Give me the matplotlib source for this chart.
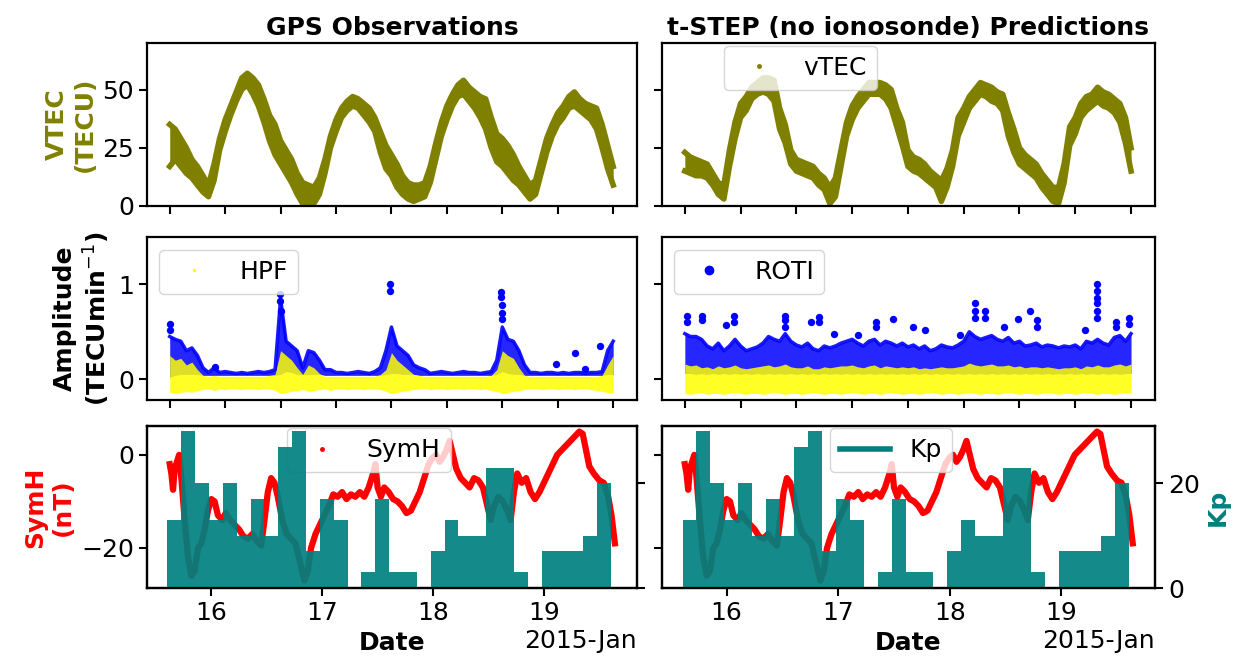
import numpy as np
import matplotlib
matplotlib.use("Agg")
import matplotlib.pyplot as plt
import matplotlib.dates as mdates
from matplotlib.lines import Line2D

plt.rcParams['font.size'] = 18

# time grid (day of Jan 2015) for the VTEC / amplitude panels, 15:00 on the 15th onwards
grid_days = np.arange(15.625, 19.626, 0.05)

# GPS observed VTEC band (TECU)
vtec_obs_lo = [17, 20, 17, 14, 12, 9, 6, 4, 11, 24, 32, 39, 45, 50, 52, 48, 43, 36, 28, 22,
               18, 14, 10, 5, 1, 0, 1, 5, 14, 25, 32, 38, 41, 43, 42, 39, 36, 32, 23, 16,
               13, 8, 5, 3, 2, 3, 4, 10, 20, 30, 37, 43, 47, 48, 45, 42, 38, 33, 25, 19,
               17, 14, 11, 9, 6, 3, 5, 14, 23, 30, 35, 38, 42, 43, 41, 39, 37, 33, 25, 16, 9]
vtec_obs_hi = [35, 33, 29, 25, 20, 17, 13, 9, 18, 29, 37, 43, 49, 55, 57, 55, 52, 46, 39, 35,
               28, 24, 20, 14, 10, 9, 8, 12, 20, 30, 37, 42, 45, 47, 46, 44, 42, 38, 32, 26,
               22, 18, 13, 10, 9, 9, 10, 17, 27, 36, 43, 48, 52, 54, 51, 49, 47, 46, 38, 31,
               29, 26, 22, 17, 13, 9, 11, 20, 29, 35, 40, 43, 47, 49, 46, 44, 43, 42, 35, 26, 17]

# t-STEP predicted VTEC band (TECU)
vtec_pred_lo = [15, 14, 13, 13, 12, 9, 5, 3, 17, 29, 38, 41, 46, 48, 49, 48, 45, 33, 27, 18,
                15, 14, 13, 12, 9, 7, 1, 4, 17, 30, 37, 42, 45, 48, 48, 48, 46, 42, 34, 26,
                17, 15, 14, 12, 10, 8, 2, 8, 17, 30, 36, 42, 45, 48, 47, 45, 44, 41, 30, 23,
                18, 16, 14, 12, 8, 5, 2, 1, 10, 26, 31, 38, 41, 43, 45, 43, 42, 40, 36, 27, 15]
vtec_pred_hi = [23, 21, 20, 19, 18, 14, 10, 9, 24, 36, 44, 47, 51, 53, 55, 55, 54, 42, 35, 24,
                20, 19, 18, 17, 14, 12, 8, 12, 24, 36, 43, 47, 50, 53, 53, 53, 52, 50, 42, 36,
                24, 21, 20, 18, 15, 13, 11, 16, 24, 38, 42, 47, 50, 53, 52, 51, 49, 48, 40, 33,
                25, 22, 20, 18, 14, 11, 8, 8, 18, 34, 38, 44, 47, 48, 51, 49, 48, 46, 44, 38, 25]

# observed ROTI (blue) and HPF (yellow) amplitude bands (TECU/min)
roti_obs_lo = [0.02, 0.04, 0.05, 0.05, 0.05, 0.05, 0.04, 0.04, 0.04, 0.04, 0.04, 0.04, 0.04, 0.04,
               0.04, 0.04, 0.04, 0.04, 0.04, 0.04, 0.05, 0.08, 0.07, 0.05, 0.05, 0.05, 0.05, 0.05,
               0.04, 0.04, 0.04, 0.04, 0.04, 0.04, 0.04, 0.04, 0.04, 0.04, 0.04, 0.05, 0.06, 0.06,
               0.05, 0.05, 0.05, 0.04, 0.04, 0.04, 0.04, 0.04, 0.04, 0.04, 0.04, 0.04, 0.04, 0.04,
               0.04, 0.04, 0.04, 0.05, 0.08, 0.06, 0.05, 0.05, 0.04, 0.04, 0.04, 0.04, 0.04, 0.04,
               0.04, 0.04, 0.04, 0.04, 0.04, 0.04, 0.04, 0.04, 0.04, 0.05, 0.05]
roti_obs_hi = [0.45, 0.42, 0.4, 0.3, 0.33, 0.25, 0.12, 0.07, 0.12, 0.07, 0.08, 0.07, 0.06, 0.07,
               0.06, 0.07, 0.08, 0.07, 0.08, 0.1, 0.85, 0.4, 0.35, 0.3, 0.12, 0.3, 0.28, 0.2,
               0.1, 0.1, 0.07, 0.07, 0.06, 0.07, 0.08, 0.07, 0.06, 0.08, 0.12, 0.3, 0.55, 0.35,
               0.3, 0.25, 0.15, 0.12, 0.1, 0.06, 0.07, 0.08, 0.07, 0.06, 0.07, 0.08, 0.07, 0.07,
               0.06, 0.07, 0.08, 0.2, 0.55, 0.42, 0.4, 0.3, 0.15, 0.07, 0.07, 0.06, 0.07, 0.07,
               0.06, 0.07, 0.06, 0.07, 0.07, 0.06, 0.07, 0.07, 0.08, 0.3, 0.4]
hpf_obs_lo = [-0.14, -0.15, -0.14, -0.13, -0.14, -0.12, -0.11, -0.1, -0.12, -0.1, -0.11, -0.1, -0.1, -0.11,
              -0.1, -0.1, -0.11, -0.1, -0.1, -0.12, -0.15, -0.14, -0.13, -0.12, -0.11, -0.13, -0.12, -0.11,
              -0.1, -0.12, -0.1, -0.1, -0.11, -0.1, -0.1, -0.11, -0.1, -0.1, -0.11, -0.13, -0.15, -0.14,
              -0.13, -0.12, -0.11, -0.1, -0.1, -0.11, -0.1, -0.1, -0.11, -0.1, -0.1, -0.11, -0.1, -0.1,
              -0.11, -0.1, -0.12, -0.13, -0.15, -0.14, -0.13, -0.12, -0.11, -0.1, -0.1, -0.11, -0.1, -0.1,
              -0.11, -0.1, -0.1, -0.11, -0.1, -0.1, -0.11, -0.12, -0.13, -0.14, -0.15]
hpf_obs_hi = [0.25, 0.2, 0.22, 0.15, 0.18, 0.1, 0.04, 0.03, 0.04, 0.03, 0.03, 0.03, 0.03, 0.03,
              0.03, 0.03, 0.03, 0.03, 0.04, 0.05, 0.3, 0.25, 0.2, 0.12, 0.05, 0.15, 0.12, 0.06,
              0.03, 0.03, 0.03, 0.03, 0.03, 0.03, 0.03, 0.03, 0.03, 0.03, 0.05, 0.1, 0.28, 0.2,
              0.15, 0.1, 0.05, 0.04, 0.03, 0.03, 0.03, 0.03, 0.03, 0.03, 0.03, 0.03, 0.03, 0.03,
              0.03, 0.03, 0.04, 0.1, 0.3, 0.25, 0.22, 0.12, 0.04, 0.03, 0.03, 0.03, 0.03, 0.03,
              0.03, 0.03, 0.03, 0.03, 0.03, 0.03, 0.03, 0.03, 0.04, 0.15, 0.25]
roti_obs_spike_days = [15.625, 15.63, 16.03, 16.62, 16.62, 16.625, 17.61, 17.61, 18.615, 18.615,
                       18.62, 18.62, 18.625, 19.11, 19.28, 19.37, 19.51]
roti_obs_spike_vals = [0.58, 0.52, 0.13, 0.9, 0.82, 0.72, 1.0, 0.93, 0.92, 0.87,
                       0.78, 0.7, 0.63, 0.16, 0.28, 0.11, 0.35]

# predicted ROTI and HPF bands
roti_pred_lo = [0.06, 0.06, 0.05, 0.06, 0.05, 0.06, 0.05, 0.06, 0.05, 0.06, 0.05, 0.06, 0.05, 0.06,
                0.05, 0.06, 0.05, 0.06, 0.05, 0.06, 0.05, 0.06, 0.05, 0.06, 0.05, 0.06, 0.05, 0.06,
                0.05, 0.06, 0.05, 0.06, 0.05, 0.06, 0.05, 0.06, 0.05, 0.06, 0.05, 0.06, 0.05, 0.06,
                0.05, 0.06, 0.05, 0.06, 0.05, 0.06, 0.05, 0.06, 0.05, 0.06, 0.05, 0.06, 0.05, 0.06,
                0.05, 0.06, 0.05, 0.06, 0.05, 0.06, 0.05, 0.06, 0.05, 0.06, 0.05, 0.06, 0.05, 0.06,
                0.05, 0.06, 0.05, 0.06, 0.05, 0.06, 0.05, 0.06, 0.05, 0.06, 0.06]
roti_pred_hi = [0.48, 0.45, 0.45, 0.42, 0.35, 0.32, 0.38, 0.3, 0.35, 0.42, 0.35, 0.3, 0.32, 0.34,
                0.38, 0.45, 0.42, 0.4, 0.48, 0.4, 0.36, 0.34, 0.38, 0.32, 0.3, 0.35, 0.33, 0.35,
                0.38, 0.4, 0.42, 0.38, 0.35, 0.4, 0.42, 0.36, 0.4, 0.38, 0.35, 0.38, 0.34, 0.36,
                0.32, 0.35, 0.3, 0.32, 0.36, 0.34, 0.33, 0.36, 0.4, 0.5, 0.45, 0.42, 0.44, 0.46,
                0.42, 0.4, 0.44, 0.38, 0.4, 0.35, 0.36, 0.38, 0.34, 0.36, 0.35, 0.33, 0.35, 0.34,
                0.36, 0.32, 0.4, 0.38, 0.42, 0.38, 0.36, 0.44, 0.46, 0.4, 0.48]
hpf_pred_lo = [-0.15, -0.16, -0.15, -0.14, -0.16, -0.15, -0.15, -0.16, -0.15, -0.14, -0.15, -0.16, -0.15, -0.15,
               -0.16, -0.15, -0.14, -0.15, -0.16, -0.15, -0.15, -0.16, -0.15, -0.14, -0.15, -0.16, -0.15, -0.15,
               -0.16, -0.15, -0.14, -0.15, -0.16, -0.15, -0.15, -0.16, -0.15, -0.14, -0.15, -0.16, -0.15, -0.15,
               -0.16, -0.15, -0.14, -0.15, -0.16, -0.15, -0.15, -0.16, -0.15, -0.14, -0.15, -0.16, -0.15, -0.15,
               -0.16, -0.15, -0.14, -0.15, -0.16, -0.15, -0.15, -0.16, -0.15, -0.14, -0.15, -0.16, -0.15, -0.15,
               -0.16, -0.15, -0.14, -0.15, -0.16, -0.15, -0.15, -0.16, -0.15, -0.14, -0.15]
hpf_pred_hi = [0.16, 0.14, 0.15, 0.12, 0.13, 0.11, 0.14, 0.12, 0.13, 0.15, 0.12, 0.11, 0.12, 0.13,
               0.14, 0.15, 0.13, 0.14, 0.16, 0.13, 0.12, 0.12, 0.14, 0.11, 0.11, 0.13, 0.12, 0.13,
               0.14, 0.14, 0.15, 0.13, 0.12, 0.14, 0.15, 0.12, 0.14, 0.13, 0.12, 0.13, 0.12, 0.13,
               0.11, 0.12, 0.11, 0.12, 0.13, 0.12, 0.12, 0.13, 0.14, 0.17, 0.15, 0.14, 0.15, 0.16,
               0.14, 0.14, 0.15, 0.13, 0.14, 0.12, 0.13, 0.13, 0.12, 0.13, 0.12, 0.11, 0.12, 0.12,
               0.13, 0.11, 0.14, 0.13, 0.15, 0.13, 0.13, 0.15, 0.16, 0.14, 0.16]
roti_pred_spike_days = [15.64, 15.64, 15.78, 15.78, 15.996, 16.07, 16.07, 16.52, 16.52, 16.52,
                        16.76, 16.83, 16.83, 16.96, 17.18, 17.34, 17.34, 17.49, 17.67, 17.78,
                        18.09, 18.23, 18.23, 18.23, 18.32, 18.32, 18.49, 18.61, 18.72, 18.78,
                        18.78, 19.21, 19.32, 19.32, 19.32, 19.32, 19.32, 19.32, 19.49, 19.49,
                        19.61, 19.61]
roti_pred_spike_vals = [0.67, 0.6, 0.67, 0.62, 0.57, 0.67, 0.6, 0.67, 0.62, 0.55,
                        0.6, 0.66, 0.6, 0.48, 0.47, 0.6, 0.55, 0.63, 0.55, 0.52,
                        0.47, 0.8, 0.72, 0.65, 0.72, 0.65, 0.55, 0.63, 0.72, 0.62,
                        0.55, 0.52, 1.0, 0.93, 0.86, 0.8, 0.72, 0.65, 0.6, 0.55,
                        0.65, 0.58]

# SymH index (nT)
symh_days = [15.625, 15.64, 15.655, 15.67, 15.69, 15.71, 15.73, 15.76, 15.79, 15.82, 15.85, 15.88,
             15.91, 15.94, 15.97, 16.0, 16.03, 16.06, 16.1, 16.13, 16.17, 16.21, 16.25, 16.29,
             16.33, 16.37, 16.41, 16.45, 16.48, 16.51, 16.54, 16.57, 16.6, 16.64, 16.68, 16.72,
             16.76, 16.8, 16.84, 16.87, 16.9, 16.94, 16.98, 17.02, 17.06, 17.1, 17.14, 17.18,
             17.22, 17.26, 17.3, 17.34, 17.38, 17.42, 17.46, 17.48, 17.5, 17.53, 17.56, 17.6,
             17.64, 17.68, 17.72, 17.76, 17.8, 17.84, 17.88, 17.92, 17.96, 18.0, 18.03, 18.06,
             18.09, 18.12, 18.15, 18.18, 18.21, 18.25, 18.29, 18.33, 18.37, 18.41, 18.45, 18.49,
             18.52, 18.55, 18.59, 18.63, 18.67, 18.7, 18.73, 18.76, 18.8, 18.84, 18.88, 18.92,
             18.96, 19.0, 19.04, 19.08, 19.12, 19.16, 19.2, 19.24, 19.28, 19.32, 19.35, 19.38,
             19.41, 19.45, 19.5, 19.54, 19.58, 19.61, 19.64]
symh_vals = [-2, -4, -7.5, -3, -1.5, 0, -5, -14, -22, -26, -25, -20,
             -19, -16, -12, -9.5, -10, -13, -14, -12.5, -14, -15, -16, -17.5,
             -18, -17, -18.5, -19.5, -14, -8, -5, -6, -9, -14, -17, -18,
             -19, -23, -27, -25, -20, -17, -15, -13, -11, -8.5, -9, -8,
             -9.5, -8.5, -9, -8, -9, -7, -4, -2, -7, -9, -7, -8,
             -9.5, -10, -11, -12.5, -12, -10, -8, -5, -2, -0.5, 0, -1.5,
             -0.5, 1, 3, 0, -3, -5, -6, -7, -5, -5.5, -7, -11,
             -14, -11, -9, -10, -12, -14, -8, -4, -6, -5, -8, -9.5,
             -8, -6, -4, -2, 0, 1, 2, 3, 4, 5, 4.5, 1,
             -2.5, -4, -5.5, -6, -9, -13, -19]

# Kp (x10), 3-hourly from 15:00 on the 15th
kp_slot_start = [15.625, 15.75, 15.875, 16.0, 16.125, 16.25, 16.375, 16.5, 16.625, 16.75, 16.875,
                 17.0, 17.125, 17.25, 17.375, 17.5, 17.625, 17.75, 17.875, 18.0, 18.125, 18.25,
                 18.375, 18.5, 18.625, 18.75, 18.875, 19.0, 19.125, 19.25, 19.375, 19.5]
kp_vals = [13, 30, 20, 13, 20, 10, 17, 10, 27, 30, 7,
           17, 13, 0, 3, 17, 3, 3, 0, 7, 13, 10,
           10, 23, 23, 3, 0, 7, 7, 7, 10, 20]

half_day_ticks = [15.625, 16.125, 16.625, 17.125, 17.625, 18.125, 18.625, 19.125, 19.625]

jan0 = mdates.date2num(np.datetime64('2015-01-01T00:00:00')) - 1.0


def dnum(days):
    return jan0 + np.asarray(days, dtype=float)


XLIM = dnum([15.42, 19.84])

fig = plt.figure(figsize=(12.53, 6.66), dpi=100)
col_x = [(0.1173, 0.3911), (0.5283, 0.3935)]
row_y = [(0.6907, 0.2447), (0.3994, 0.2447), (0.1171, 0.2433)]
axs = [[fig.add_axes([cx, ry, cw, rh]) for (cx, cw) in col_x] for (ry, rh) in row_y]

for row in axs:
    for ax in row:
        for sp in ax.spines.values():
            sp.set_linewidth(1.6)
        ax.tick_params(length=6, width=1.5)
        ax.set_xlim(XLIM)

x = dnum(grid_days)

# row 1: VTEC
for ax, lo, hi in [(axs[0][0], vtec_obs_lo, vtec_obs_hi), (axs[0][1], vtec_pred_lo, vtec_pred_hi)]:
    ax.fill_between(x, lo, hi, color='olive', lw=0)
    ax.plot(x, lo, color='olive', lw=4)
    ax.plot(x, hi, color='olive', lw=4)
    ax.set_ylim(0, 70)
    ax.set_xticks(dnum(half_day_ticks))
    ax.tick_params(labelbottom=False)
axs[0][0].set_ylabel('VTEC\n(TECU)', color='olive', fontweight='bold')
axs[0][1].tick_params(labelleft=False)
axs[0][1].legend(handles=[Line2D([], [], ls='none', marker='.', ms=5, color='olive', label='vTEC')],
                 loc='upper left', bbox_to_anchor=(0.12, 1.0), borderaxespad=0.1)
axs[0][0].set_title('GPS Observations', fontweight='bold', fontsize=18)
axs[0][1].set_title('t-STEP (no ionosonde) Predictions', fontweight='bold', fontsize=18)

# row 2: amplitudes
panels = [(axs[1][0], roti_obs_lo, roti_obs_hi, hpf_obs_lo, hpf_obs_hi, roti_obs_spike_days, roti_obs_spike_vals),
          (axs[1][1], roti_pred_lo, roti_pred_hi, hpf_pred_lo, hpf_pred_hi, roti_pred_spike_days, roti_pred_spike_vals)]
for ax, rlo, rhi, hlo, hhi, sd, sv in panels:
    ax.fill_between(x, rlo, rhi, color='blue', lw=0, alpha=0.85)
    ax.plot(x, rhi, color='blue', lw=2.5, alpha=0.9)
    ax.scatter(dnum(sd), sv, s=28, color='blue', lw=0)
    ax.fill_between(x, hlo, hhi, color='yellow', lw=0, alpha=0.85)
    ax.set_ylim(-0.22, 1.5)
    ax.set_xticks(dnum(half_day_ticks))
    ax.tick_params(labelbottom=False)
axs[1][0].set_ylabel('Amplitude\n(TECUmin$^{-1}$)', fontweight='bold')
axs[1][1].tick_params(labelleft=False)
axs[1][0].legend(handles=[Line2D([], [], ls='none', marker='.', ms=3, color='yellow', label='HPF')],
                 loc='upper left')
axs[1][1].legend(handles=[Line2D([], [], ls='none', marker='o', ms=6, color='blue', label='ROTI')],
                 loc='upper left')

# row 3: SymH and Kp
bar_left = dnum(kp_slot_start) - 1.0 / 48
for j, ax in enumerate(axs[2]):
    ax.plot(dnum(symh_days), symh_vals, color='red', lw=4.5)
    ax.set_ylim(-28.6, 6.2)
    loc = mdates.DayLocator()
    ax.xaxis.set_major_locator(loc)
    ax.xaxis.set_major_formatter(mdates.ConciseDateFormatter(loc))
    ax.set_xlabel('Date', fontweight='bold')
    tw = ax.twinx()
    tw.bar(bar_left, kp_vals, width=0.125, align='edge', color='teal', alpha=0.92, lw=0)
    tw.set_ylim(0, 31)
    tw.set_xlim(XLIM)
    for sp in tw.spines.values():
        sp.set_linewidth(1.6)
    tw.tick_params(length=6, width=1.5)
    if j == 0:
        tw.tick_params(labelright=False)
        ax.set_ylabel('SymH\n(nT)', color='red', fontweight='bold')
        ax.legend(handles=[Line2D([], [], ls='none', marker='.', ms=5, color='red', label='SymH')],
                  loc='upper left', bbox_to_anchor=(0.28, 1.0), borderaxespad=0.1)
    else:
        ax.tick_params(labelleft=False)
        tw.set_ylabel('Kp', color='teal', fontweight='bold')
        tw.legend(handles=[Line2D([], [], lw=4, color='teal', label='Kp')],
                  loc='upper left', bbox_to_anchor=(0.335, 1.0), borderaxespad=0.1)

fig.savefig('out.png', dpi=100)
